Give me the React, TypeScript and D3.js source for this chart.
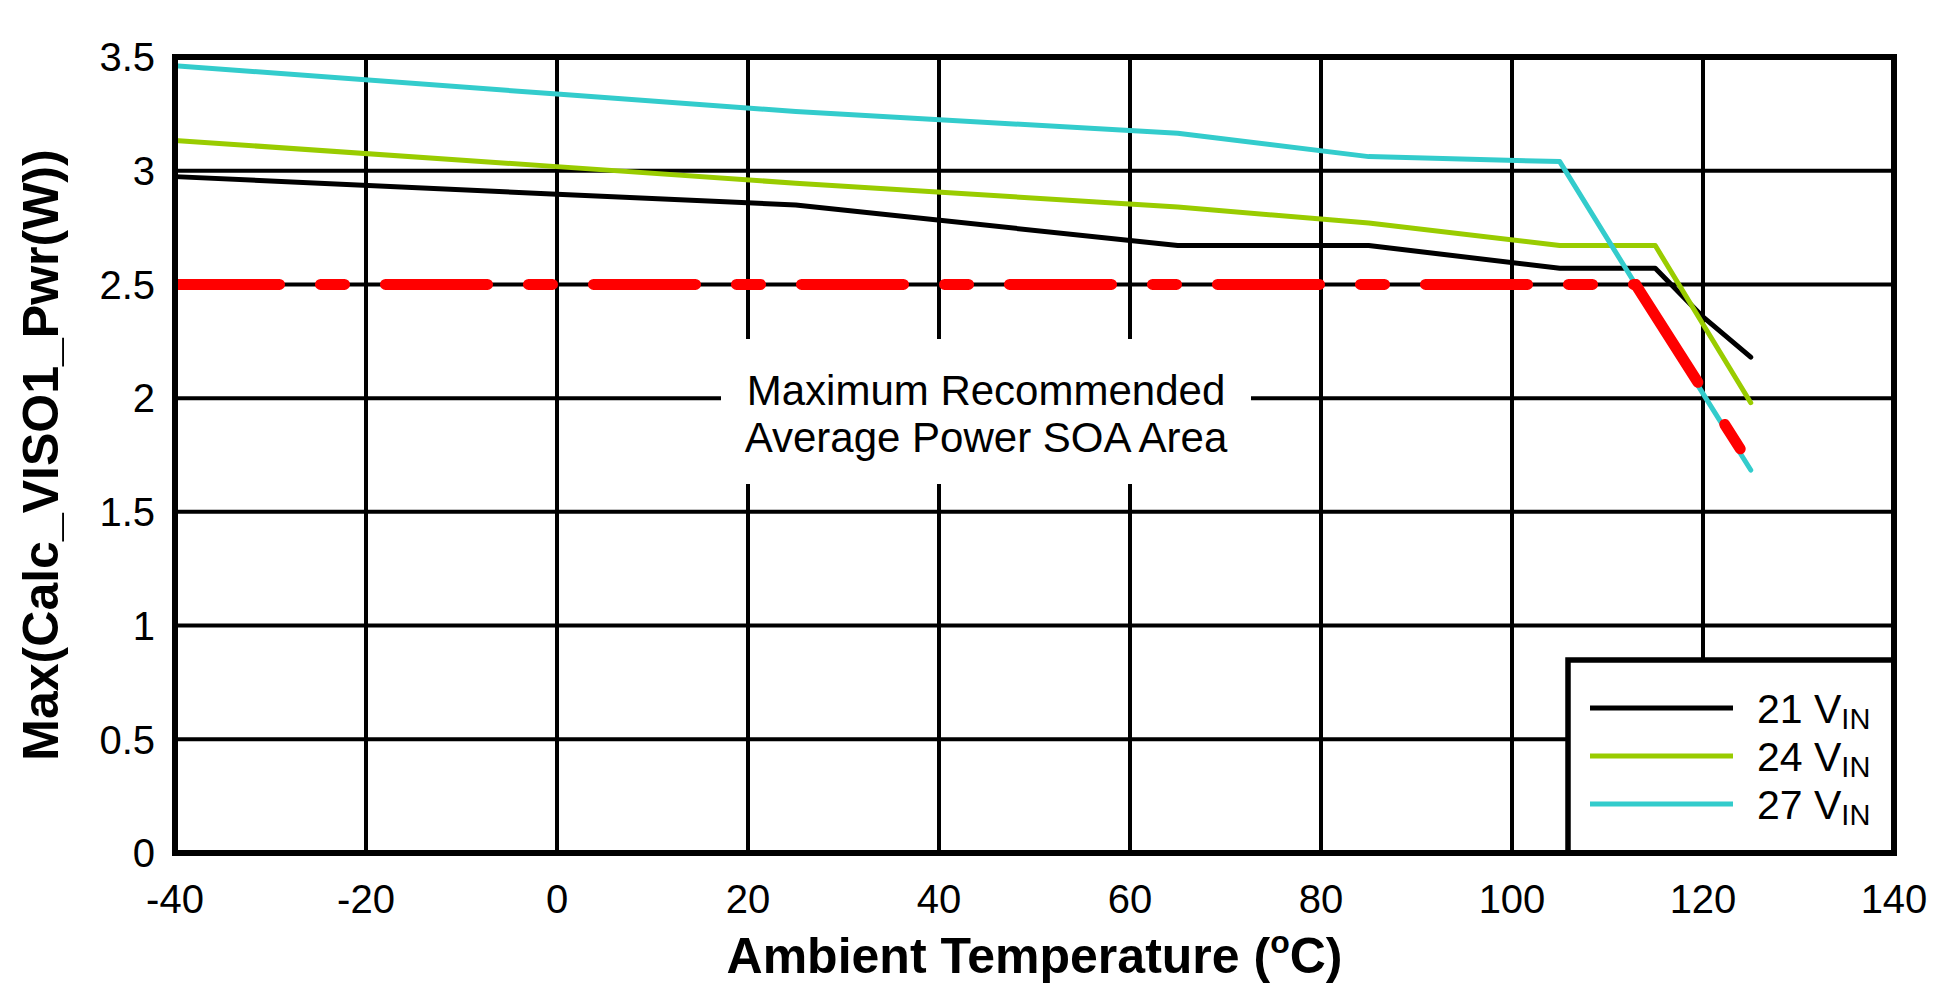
import React from "react";
import * as d3 from "d3";

const temps = [-40, 0, 25, 65, 85, 105, 115, 120, 125];
const vin21 = [2.974, 2.897, 2.849, 2.671, 2.671, 2.571, 2.571, 2.357, 2.18];
const vin24 = [3.133, 3.018, 2.945, 2.84, 2.77, 2.671, 2.671, 2.325, 1.98];
const vin27 = [3.462, 3.337, 3.26, 3.165, 3.062, 3.04, 2.36, 2.02, 1.684];

const soaFlat: [number, number][] = [[-40, 2.5], [112.94, 2.5]];
const soaSlope: [number, number][] = [[112.94, 2.5], [123.9, 1.777]];

const xTicks = [-40, -20, 0, 20, 40, 60, 80, 100, 120, 140];
const yTicks = [0, 0.5, 1, 1.5, 2, 2.5, 3, 3.5];
const yTickLabels = ["0", "0.5", "1", "1.5", "2", "2.5", "3", "3.5"];

const seriesNames = ["21", "24", "27"];
const seriesColors = ["#000000", "#99CC00", "#33CCCC"];

const W = 1956;
const H = 995;
const FONT = "'Liberation Sans', Arial, Helvetica, sans-serif";

export default function App() {
  const x = d3.scaleLinear().domain([-40, 140]).range([175, 1894]);
  const y = d3.scaleLinear().domain([0, 3.5]).range([853, 57]);
  const line = d3
    .line<[number, number]>()
    .x((d) => x(d[0]))
    .y((d) => y(d[1]));

  const series = [vin21, vin24, vin27].map((vals) =>
    temps.map((t, i) => [t, vals[i]] as [number, number])
  );

  const x0 = x(-40);
  const x1 = x(140);
  const y0 = y(0);
  const y1 = y(3.5);

  const legX = 1568;
  const legY = 660;
  const legRowY = [708, 756, 804];

  const annX = 986;

  return (
    <svg
      width={W}
      height={H}
      style={{ position: "absolute", left: 0, top: 0, background: "#fff" }}
      fontFamily={FONT}
    >
      <rect x={0} y={0} width={W} height={H} fill="#fff" />
      {/* grid */}
      {xTicks.slice(1, -1).map((t) => (
        <line key={"gx" + t} x1={x(t)} x2={x(t)} y1={y1} y2={y0} stroke="#000" strokeWidth={4} />
      ))}
      {yTicks.slice(1, -1).map((v) => (
        <line key={"gy" + v} x1={x0} x2={x1} y1={y(v)} y2={y(v)} stroke="#000" strokeWidth={4} />
      ))}

      {/* annotation */}
      <rect x={721} y={339} width={530} height={145} fill="#fff" />
      <text x={annX} y={405} fontSize={42} textAnchor="middle" fill="#000">
        Maximum Recommended
      </text>
      <text x={annX} y={452} fontSize={42} textAnchor="middle" fill="#000">
        Average Power SOA Area
      </text>

      {/* series */}
      {series.map((s, i) => (
        <path
          key={"s" + i}
          d={line(s) || ""}
          fill="none"
          stroke={seriesColors[i]}
          strokeWidth={5}
          strokeLinejoin="round"
          strokeLinecap="round"
        />
      ))}

      {/* SOA red limit */}
      <path
        d={line(soaFlat) || ""}
        fill="none"
        stroke="#FF0000"
        strokeWidth={11}
        strokeLinecap="round"
        strokeDasharray="102 41 24 41"
        strokeDashoffset={-2.5}
      />
      <path
        d={line(soaSlope) || ""}
        fill="none"
        stroke="#FF0000"
        strokeWidth={11}
        strokeLinecap="round"
        strokeDasharray="116 50 29 200"
      />

      {/* legend */}
      <rect
        x={legX}
        y={legY}
        width={x1 - legX}
        height={y0 - legY}
        fill="#fff"
        stroke="#000"
        strokeWidth={5.5}
      />
      {seriesNames.map((n, i) => (
        <g key={"l" + i}>
          <line
            x1={1590}
            x2={1733}
            y1={legRowY[i]}
            y2={legRowY[i]}
            stroke={seriesColors[i]}
            strokeWidth={5}
          />
          <text x={1757} y={legRowY[i] + 15} fontSize={41} fill="#000">
            {n + " V"}
            <tspan fontSize={29} dy={6}>
              IN
            </tspan>
          </text>
        </g>
      ))}

      {/* border */}
      <rect
        x={x0}
        y={y1}
        width={x1 - x0}
        height={y0 - y1}
        fill="none"
        stroke="#000"
        strokeWidth={6}
      />

      {/* tick labels */}
      {yTicks.map((v, i) => (
        <text key={"yl" + v} x={155} y={y(v) + 14.3} fontSize={40} textAnchor="end" fill="#000">
          {yTickLabels[i]}
        </text>
      ))}
      {xTicks.map((t) => (
        <text key={"xl" + t} x={x(t)} y={913} fontSize={40} textAnchor="middle" fill="#000">
          {String(t)}
        </text>
      ))}

      {/* axis titles */}
      <text
        x={(x0 + x1) / 2}
        y={973}
        fontSize={50}
        fontWeight="bold"
        textAnchor="middle"
        fill="#000"
      >
        Ambient Temperature (
        <tspan fontSize={32} dy={-20}>o</tspan>
        <tspan dy={20}>C)</tspan>
      </text>
      <text
        transform={`translate(58, ${(y0 + y1) / 2}) rotate(-90)`}
        fontSize={50}
        fontWeight="bold"
        textAnchor="middle"
        fill="#000"
      >
        Max(Calc_VISO1_Pwr(W))
      </text>
    </svg>
  );
}
